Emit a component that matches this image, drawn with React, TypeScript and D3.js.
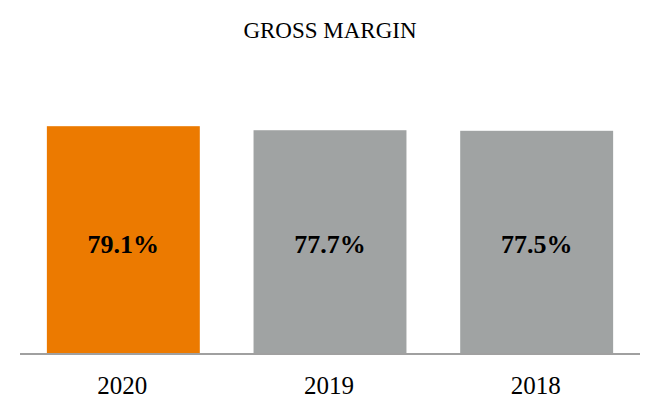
import React from "react";
import * as d3 from "d3";

const categories = ["2020", "2019", "2018"];
const values = [79.1, 77.7, 77.5];
const labels = ["79.1%", "77.7%", "77.5%"];
const colors = ["#EC7A00", "#A0A3A3", "#A0A3A3"];
const title = "GROSS MARGIN";

export default function App() {
  const W = 660, H = 420;
  const x = d3.scaleBand<string>().domain(categories).range([20, 640]).paddingInner(0.26).paddingOuter(0.13);
  const y = d3.scaleLinear().domain([0, 100]).range([354, 66]);
  const font = "'Liberation Serif', 'Times New Roman', serif";
  return (
    <svg width={W} height={H} style={{ position: "absolute", left: 0, top: 0, background: "#fff" }}>
      <text x={330} y={38} textAnchor="middle" fontFamily={font} fontSize={23} fill="#000">{title}</text>
      {categories.map((c, i) => (
        <g key={c}>
          <rect x={x(c)} y={y(values[i])} width={x.bandwidth()} height={y(0) - y(values[i])} fill={colors[i]} />
          <text x={(x(c) as number) + x.bandwidth() / 2} y={253} textAnchor="middle" fontFamily={font} fontSize={26} fontWeight="bold" fill="#000">{labels[i]}</text>
          <text x={(x(c) as number) + x.bandwidth() / 2 - 1} y={394} textAnchor="middle" fontFamily={font} fontSize={25} fill="#000">{c}</text>
        </g>
      ))}
      <line x1={20} x2={640} y1={354} y2={354} stroke="#A0A0A0" strokeWidth={2} />
    </svg>
  );
}
